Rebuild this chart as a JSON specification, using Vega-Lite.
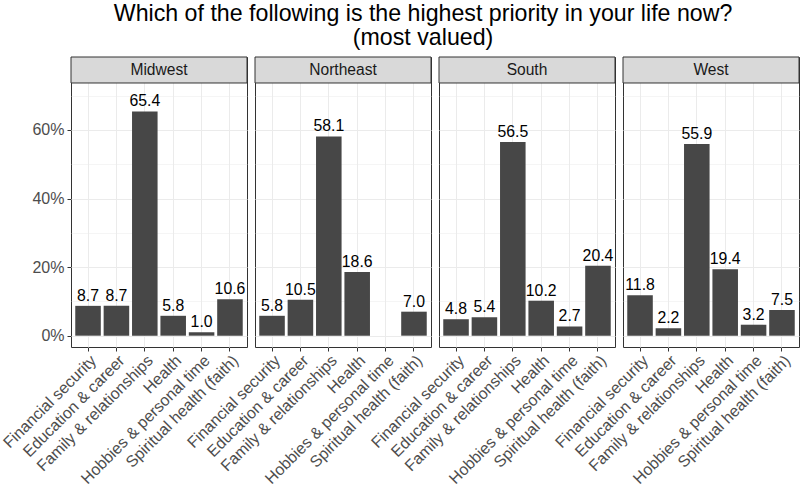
{
  "$schema": "https://vega.github.io/schema/vega-lite/v6.json",
  "background": "white",
  "padding": {"left": 0, "right": 2, "top": 1, "bottom": 0},
  "title": {
    "text": ["Which of the following is the highest priority in your life now?", "(most valued)"],
    "font": "Liberation Sans", "fontSize": 23.2, "fontWeight": "normal", "color": "#000000",
    "anchor": "middle", "lineHeight": 24, "offset": 6, "dx": 23
  },
  "data": {
    "values": [
      {"region": "Midwest", "priority": "Financial security", "pct": 8.7},
      {"region": "Midwest", "priority": "Education & career", "pct": 8.7},
      {"region": "Midwest", "priority": "Family & relationships", "pct": 65.4},
      {"region": "Midwest", "priority": "Health", "pct": 5.8},
      {"region": "Midwest", "priority": "Hobbies & personal time", "pct": 1.0},
      {"region": "Midwest", "priority": "Spiritual health (faith)", "pct": 10.6},
      {"region": "Northeast", "priority": "Financial security", "pct": 5.8},
      {"region": "Northeast", "priority": "Education & career", "pct": 10.5},
      {"region": "Northeast", "priority": "Family & relationships", "pct": 58.1},
      {"region": "Northeast", "priority": "Health", "pct": 18.6},
      {"region": "Northeast", "priority": "Spiritual health (faith)", "pct": 7.0},
      {"region": "South", "priority": "Financial security", "pct": 4.8},
      {"region": "South", "priority": "Education & career", "pct": 5.4},
      {"region": "South", "priority": "Family & relationships", "pct": 56.5},
      {"region": "South", "priority": "Health", "pct": 10.2},
      {"region": "South", "priority": "Hobbies & personal time", "pct": 2.7},
      {"region": "South", "priority": "Spiritual health (faith)", "pct": 20.4},
      {"region": "West", "priority": "Financial security", "pct": 11.8},
      {"region": "West", "priority": "Education & career", "pct": 2.2},
      {"region": "West", "priority": "Family & relationships", "pct": 55.9},
      {"region": "West", "priority": "Health", "pct": 19.4},
      {"region": "West", "priority": "Hobbies & personal time", "pct": 3.2},
      {"region": "West", "priority": "Spiritual health (faith)", "pct": 7.5}
    ]
  },
  "facet": {
    "column": {"field": "region", "type": "nominal", "title": null, "header": {"labels": false, "title": null}}
  },
  "spacing": 8,
  "bounds": "flush",
  "spec": {
    "width": 176,
    "height": 290,
    "layer": [
      {
        "mark": {"type": "bar", "color": "#474747"},
        "encoding": {
          "x": {"field": "priority", "type": "nominal", "title": null, "sort": null,
            "scale": {"domain": ["Financial security", "Education & career", "Family & relationships", "Health", "Hobbies & personal time", "Spiritual health (faith)"], "paddingInner": 0.1, "paddingOuter": 0.15}},
          "y": {"field": "pct", "type": "quantitative", "title": null,
            "scale": {"domain": [-3.3, 81.28], "nice": false, "zero": false},
            "axis": {"values": [0, 10, 20, 30, 40, 50, 60, 70], "labelExpr": "datum.value % 20 === 0 ? datum.value + '%' : ''",
              "tickOpacity": {"condition": {"test": "datum.value % 20 === 0", "value": 1}, "value": 0},
              "gridWidth": {"condition": {"test": "datum.value % 20 === 0", "value": 1}, "value": 0.5}}}
        }
      },
      {
        "mark": {"type": "text", "font": "Liberation Sans", "fontSize": 15.8, "color": "#000000", "baseline": "alphabetic", "dy": -5},
        "encoding": {
          "x": {"field": "priority", "type": "nominal"},
          "y": {"field": "pct", "type": "quantitative"},
          "text": {"field": "pct", "type": "quantitative", "format": ".1f"}
        }
      },
      {
        "transform": [{"aggregate": [{"op": "count", "as": "n"}], "groupby": ["region"]}],
        "mark": {"type": "rect", "fill": "#D9D9D9", "stroke": "#333333", "strokeWidth": 1},
        "encoding": {
          "y": {"datum": 73.7, "type": "quantitative"},
          "y2": {"datum": 81.28}
        }
      },
      {
        "transform": [{"aggregate": [{"op": "count", "as": "n"}], "groupby": ["region"]}],
        "mark": {"type": "text", "font": "Liberation Sans", "fontSize": 15.6, "color": "#1A1A1A", "baseline": "middle"},
        "encoding": {
          "y": {"datum": 77.49, "type": "quantitative"},
          "text": {"field": "region"}
        }
      }
    ]
  },
  "config": {
    "font": "Liberation Sans",
    "view": {"stroke": "#333333", "strokeWidth": 1},
    "axis": {
      "domain": false, "grid": true, "gridColor": "#EBEBEB",
      "tickColor": "#333333", "tickSize": 4, "tickWidth": 1,
      "labelFont": "Liberation Sans", "labelFontSize": 16, "labelColor": "#4D4D4D", "labelPadding": 2
    },
    "axisX": {"labelAngle": -45, "labelAlign": "right", "labelBaseline": "top", "labelLimit": 300, "gridWidth": 1, "labelPadding": 1},
    "axisY": {"labelPadding": 3}
  }
}
